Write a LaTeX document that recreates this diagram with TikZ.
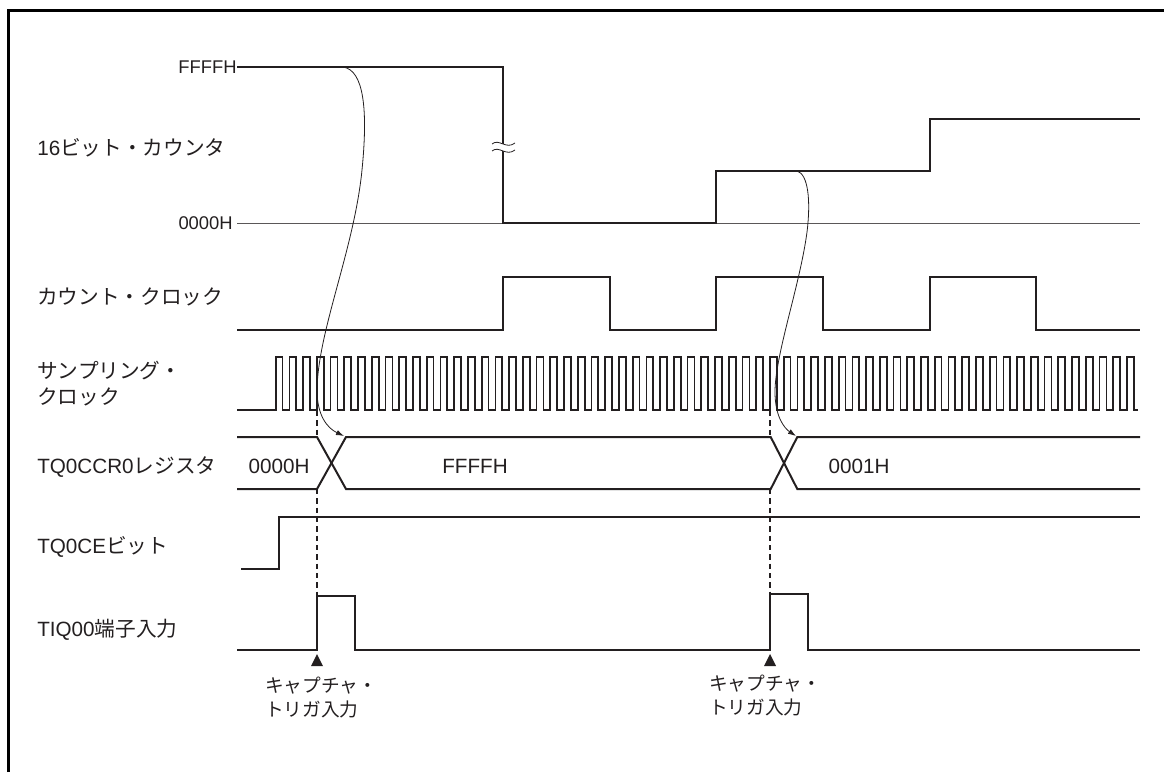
\documentclass[tikz,border=0pt]{standalone}
\usepackage{fontspec}
\setmainfont{Liberation Sans}
\newfontfamily\jp{Noto Sans CJK JP}
\usetikzlibrary{arrows.meta}
\definecolor{ink}{HTML}{231F20}
\begin{document}
\begin{tikzpicture}[x=0.75pt,y=-0.75pt,
  sig/.style={draw=ink,line width=1.5pt},
  thinline/.style={draw=ink!75,line width=0.7pt},
  guide/.style={draw=ink,line width=0.8pt,dash pattern=on 4pt off 3pt},
  flow/.style={draw=ink,line width=0.6pt,-{Latex[length=6pt,width=4pt]}},
  lbl/.style={font=\fontsize{13.8}{17}\selectfont,text=ink,inner sep=0pt},
  side/.style={font=\fontsize{15.5}{19.5}\selectfont,text=ink,inner sep=0pt},
  val/.style={font=\fontsize{15.5}{18}\selectfont,text=ink,inner sep=0pt},
  caplbl/.style={font=\fontsize{14}{17.3}\selectfont,text=ink,inner sep=0pt},
  trig/.style={fill=ink}]
\useasboundingbox (0,0) rectangle (1164,772);
% frame
\draw[line width=2.25pt] (8.8,772) -- (8.8,10.5) -- (1164,10.5);
% labels
\node[side,anchor=base west] (lcnt) at (37,155) {16{\jp ビット・カウンタ}};
\node[lbl,anchor=east] (lfff) at (237,67) {FFFFH};
\node[lbl,anchor=east] (l000) at (233,223) {0000H};
\node[side,anchor=base west] (lclk) at (37,304) {\jp カウント・クロック};
\node[side,anchor=base west,align=left] (lsmp) at (37,404) {\jp サンプリング・\\\jp クロック};
\node[side,anchor=base west] (lreg) at (37,473) {TQ0CCR0{\jp レジスタ}};
\node[side,anchor=base west] (lce) at (37,553) {TQ0CE{\jp ビット}};
\node[side,anchor=base west] (ltiq) at (37,636) {TIQ00{\jp 端子入力}};
% 16-bit counter
\draw[thinline] (237,223) -- (1140,223);
\draw[sig] (lfff.east) -- (503,67) -- (503,223) -- (716,223) -- (716,171) -- (930,171) -- (930,119) -- (1140,119);
% break mark
\fill[white] (492,144) .. controls (499,138) and (506,150) .. (515,143) -- (515,150) .. controls (506,157) and (499,145) .. (492,151) -- cycle;
\draw[ink,line width=0.6pt] (492,144) .. controls (499,138) and (506,150) .. (515,143);
\draw[ink,line width=0.6pt] (492,151) .. controls (499,145) and (506,157) .. (515,150);
% count clock
\draw[sig] (237,330) -- (503,330) -- (503,277) -- (610,277) -- (610,330) -- (716,330) -- (716,277) -- (823,277) -- (823,330) -- (930,330) -- (930,277) -- (1036,277) -- (1036,330) -- (1140,330);
% sampling clock
\draw[sig,line width=1.3pt] (237,410) foreach \i in {0,...,62} { -- ({275.7+13.73*\i},410) -- ({275.7+13.73*\i},357) -- ({282.57+13.73*\i},357) -- ({282.57+13.73*\i},410) } -- (1138,410);
% register bus
\draw[sig] (237,437) -- (317,437) -- (346,489) -- (770.7,489) -- (797.3,437) -- (1140,437);
\draw[sig] (237,489) -- (317,489) -- (346,437) -- (770.7,437) -- (797.3,489) -- (1140,489);
\node[val] (v0) at (279,466) {0000H};
\node[val] (v1) at (475,466) {FFFFH};
\node[val] (v2) at (859,466) {0001H};
% TQ0CE
\draw[sig] (241,569) -- (279,569) -- (279,517) -- (1140,517);
% TIQ00
\draw[sig] (237,650) -- (317,650) -- (317,596) -- (355,596) -- (355,650) -- (770,650) -- (770,594) -- (808,594) -- (808,650) -- (1140,650);
% guides
\draw[guide] (317,411) -- (317,437);
\draw[guide] (317,489) -- (317,596);
\draw[guide] (770,411) -- (770,437);
\draw[guide] (770,489) -- (770,594);
% triggers
\fill[trig] (317,654) -- (323,666) -- (311,666) -- cycle;
\fill[trig] (770,654) -- (776,666) -- (764,666) -- cycle;
\node[caplbl,anchor=base west,align=left] (cap1) at (265,716) {\jp キャプチャ・\\\jp トリガ入力};
\node[caplbl,anchor=base west,align=left] (cap2) at (709,714) {\jp キャプチャ・\\\jp トリガ入力};
% arrows
\coordinate (s1) at (343,67);
\coordinate (e1) at (344,436);
\coordinate (s2) at (797,171);
\coordinate (e2) at (796,436);
\draw[flow] (s1) .. controls (364,70) and (368,110) .. (362,170) .. controls (354,250) and (318,330) .. (317,390) .. controls (317,415) and (327,428) .. (e1);
\draw[flow] (s2) .. controls (808,174) and (811,200) .. (807,232) .. controls (800,285) and (775,355) .. (775,392) .. controls (775,416) and (784,428) .. (e2);
\end{tikzpicture}
\end{document}
